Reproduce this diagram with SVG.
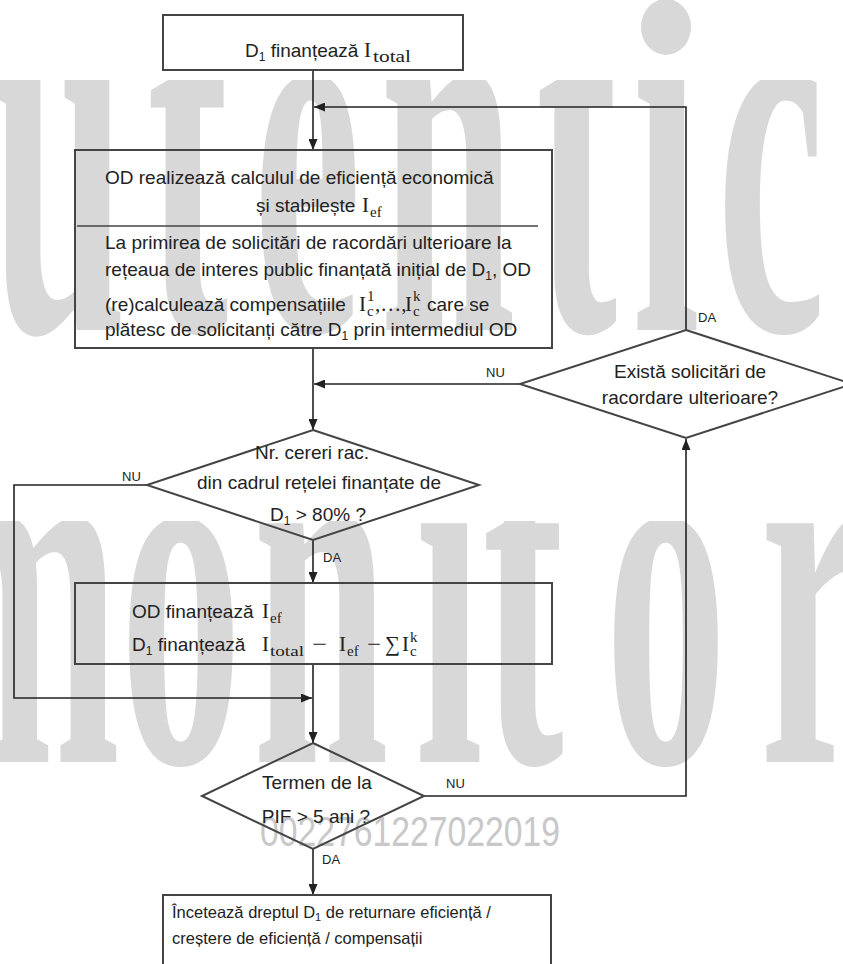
<svg xmlns="http://www.w3.org/2000/svg" width="843" height="964" viewBox="0 0 843 964">
<style>
.t{font-family:"Liberation Sans",Arial,sans-serif;font-size:19px;fill:#222}
.tc{text-anchor:middle}
.m{font-family:"Liberation Serif","DejaVu Serif",serif;font-size:21px;fill:#222}
.ms{font-family:"Liberation Serif","DejaVu Serif",serif;font-size:15px;fill:#222}
.lbl{font-family:"Liberation Sans",Arial,sans-serif;font-size:13px;fill:#222}
.box{fill:none;stroke:#444;stroke-width:2}
.c{fill:none;stroke:#222;stroke-width:1.6}
.wm{font-family:"Liberation Serif","DejaVu Serif",serif;font-weight:bold;fill:#d8d8d8}
.num{font-family:"Liberation Sans",Arial,sans-serif;font-size:43px;fill:#c8c8c8}
</style>
<defs>
<marker id="ah" markerUnits="userSpaceOnUse" markerWidth="11" markerHeight="9" refX="11" refY="4.5" orient="auto">
<path d="M0,0L11,4.5L0,9z" fill="#222"/>
</marker>
<clipPath id="cTop"><rect x="0" y="80" width="843" height="262"/></clipPath>
<clipPath id="cBot"><rect x="0" y="521" width="843" height="250"/></clipPath>
</defs>
<rect width="843" height="964" fill="#fff"/>
<g id="watermark">
<g clip-path="url(#cTop)">
<text class="wm" font-size="545" transform="translate(0,330) scale(0.448,1)" x="-292 -20 328 565 848 1196 1411 1600" y="0">autentic</text>
</g>
<ellipse cx="666" cy="27" rx="25" ry="28" fill="#d8d8d8"/>
<g clip-path="url(#cBot)">
<text class="wm" font-size="520" transform="translate(0,762) scale(0.47,1)" x="-177 255 538 883 1026 1287 1617" y="0">monitor</text>
</g>
<text class="num" x="260" y="846" textLength="300" lengthAdjust="spacingAndGlyphs">0022761227022019</text>
</g>
<g id="connectors">
<path class="c" d="M313,70V150" marker-end="url(#ah)"/>
<path class="c" d="M686,330V107H314" marker-end="url(#ah)"/>
<path class="c" d="M313,348V430" marker-end="url(#ah)"/>
<path class="c" d="M520,384H314" marker-end="url(#ah)"/>
<path class="c" d="M147,485H14V698H312" marker-end="url(#ah)"/>
<path class="c" d="M313,540V583" marker-end="url(#ah)"/>
<path class="c" d="M313,664V743" marker-end="url(#ah)"/>
<path class="c" d="M424,796H686V439" marker-end="url(#ah)"/>
<path class="c" d="M313,849V895" marker-end="url(#ah)"/>
<text class="lbl" x="698" y="322">DA</text>
<text class="lbl" x="486" y="377">NU</text>
<text class="lbl" x="122" y="481">NU</text>
<text class="lbl" x="323" y="562">DA</text>
<text class="lbl" x="446" y="788">NU</text>
<text class="lbl" x="322" y="864">DA</text>
</g>
<g id="start">
<rect class="box" x="163" y="15" width="300" height="55"/>
<text class="t" x="245" y="57">D<tspan font-size="12" dy="4">1</tspan><tspan dy="-4"> finanțează</tspan></text>
<text class="m" x="364" y="57">I</text>
<text class="ms" x="373" y="62" textLength="38" lengthAdjust="spacingAndGlyphs" style="font-size:16px">total</text>
</g>
<g id="calcul">
<rect class="box" x="75" y="150" width="477" height="198"/>
<line x1="77" y1="226" x2="538" y2="226" stroke="#444" stroke-width="1.6"/>
<text class="t" x="105" y="184">OD realizează calculul de eficiență economică</text>
<text class="t" x="256" y="212">și stabilește</text>
<text class="m" x="362" y="212">I</text>
<text class="ms" x="370" y="217">ef</text>
<text class="t" x="105" y="249">La primirea de solicitări de racordări ulterioare la</text>
<text class="t" x="105" y="276">rețeaua de interes public finanțată inițial de D<tspan font-size="12" dy="4">1</tspan><tspan dy="-4">, OD</tspan></text>
<text class="t" x="105" y="311">(re)calculează compensațiile</text>
<text class="m" x="359" y="311">I</text>
<text class="ms" x="367" y="301">1</text>
<text class="ms" x="367" y="316">c</text>
<text class="m" x="375" y="311">,…,</text>
<text class="m" x="405" y="311">I</text>
<text class="ms" x="413" y="301">k</text>
<text class="ms" x="413" y="316">c</text>
<text class="t" x="427" y="311">care se</text>
<text class="t" x="105" y="336">plătesc de solicitanți către D<tspan font-size="12" dy="4">1</tspan><tspan dy="-4"> prin intermediul OD</tspan></text>
</g>
<g id="exista">
<polygon class="box" points="686,330 852,384 686,438 520,384"/>
<text class="t tc" x="690" y="378">Există solicitări de</text>
<text class="t tc" x="690" y="404">racordare ulterioare?</text>
</g>
<g id="nr-cereri">
<polygon class="box" points="313,430 479,485 313,540 147,485"/>
<text class="t tc" x="312" y="459">Nr. cereri rac.</text>
<text class="t tc" x="319" y="489">din cadrul rețelei finanțate de</text>
<text class="t tc" x="318" y="521">D<tspan font-size="12" dy="4">1</tspan><tspan dy="-4"> &gt; 80% ?</tspan></text>
</g>
<g id="finanteaza">
<rect class="box" x="75" y="583" width="477" height="81"/>
<text class="t" x="132" y="618">OD finanțează</text>
<text class="m" x="262" y="618">I</text>
<text class="ms" x="270" y="623">ef</text>
<text class="t" x="132" y="651">D<tspan font-size="12" dy="4">1</tspan><tspan dy="-4"> finanțează</tspan></text>
<text class="m" x="262" y="651">I</text>
<text class="ms" x="270" y="656" textLength="34" lengthAdjust="spacingAndGlyphs">total</text>
<text class="m" x="312" y="651" textLength="15" lengthAdjust="spacingAndGlyphs">−</text>
<text class="m" x="339" y="651">I</text>
<text class="ms" x="347" y="656">ef</text>
<text class="m" x="367" y="651" textLength="14" lengthAdjust="spacingAndGlyphs">−</text>
<text class="m" x="385" y="651">∑</text>
<text class="m" x="402" y="651">I</text>
<text class="ms" x="410" y="642">k</text>
<text class="ms" x="410" y="656">c</text>
</g>
<g id="termen">
<polygon class="box" points="313,743 424,796 313,849 202,796"/>
<text class="t tc" x="317" y="789">Termen de la</text>
<text class="t tc" x="316" y="823">PIF &gt; 5 ani ?</text>
</g>
<g id="inceteaza">
<rect class="box" x="163" y="895" width="388" height="80"/>
<text class="t" x="172" y="918" style="font-size:16.5px">Încetează dreptul D<tspan style="font-size:11px" dy="3">1</tspan><tspan dy="-3"> de returnare eficiență /</tspan></text>
<text class="t" x="172" y="944" style="font-size:16.5px">creștere de eficiență / compensații</text>
</g>
</svg>
